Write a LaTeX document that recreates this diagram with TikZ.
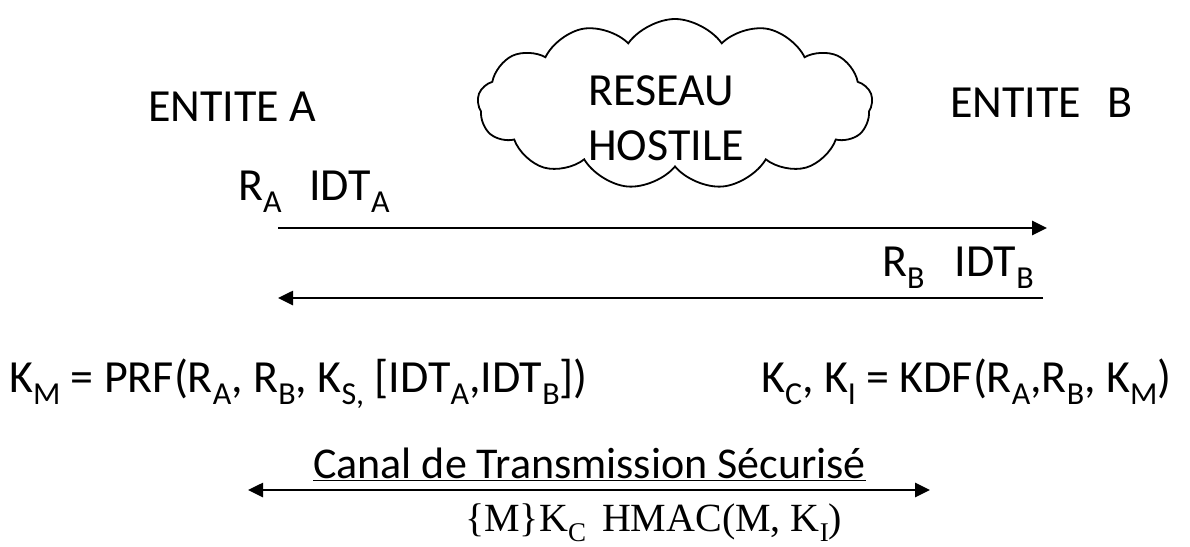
\documentclass[tikz,border=0pt]{standalone}
\usepackage{fontspec}
\setmainfont{Carlito}
\newfontfamily\tmsfont{Liberation Serif}
\usetikzlibrary{arrows.meta,shapes.symbols}
\newcommand\sbx[1]{\raisebox{-0.27em}{\fontsize{32}{32}\selectfont #1}}
\newcommand\sbt[1]{\raisebox{-0.25em}{\fontsize{27}{27}\selectfont #1}}
\tikzset{
  txt/.style={inner sep=0pt,anchor=base west,font=\fontsize{46}{56}\selectfont},
  ar/.style={-{Triangle[length=15pt,width=14pt]},line width=2.6pt},
  dar/.style={{Triangle[length=15pt,width=14pt]}-{Triangle[length=15pt,width=14pt]},line width=2.6pt},
  net/.style={cloud,draw,cloud puffs=13,cloud puff arc=110,aspect=2.3,line width=1.8pt,
              minimum width=395pt,minimum height=170pt},
}
\begin{document}
\begin{tikzpicture}[x=1pt,y=-1pt]
  \useasboundingbox (0,0) rectangle (1190,546);
  % les deux entites et le reseau
  \node[txt] (ea) at (148,121) {ENTITE A};
  \node[txt] (eb) at (950,117) {ENTITE\hspace{0.34em} B};
  \node[net] (net) at (675,104) {};
  \node[txt] (res) at (588,105) {RESEAU};
  \node[txt] (hos) at (588,160) {HOSTILE};
  % echange des aleas
  \node[txt] (ra) at (238,200) {R\sbx{A}\hspace{0.6em}IDT\sbx{A}};
  \node[txt] (rb) at (882,276) {R\sbx{B}\hspace{0.65em}IDT\sbx{B}};
  \coordinate (a1s) at (278,228); \coordinate (a1e) at (1047,228);
  \coordinate (a2s) at (1043,298); \coordinate (a2e) at (278,298);
  \draw[ar] (a1s) -- (a1e);
  \draw[ar] (a2s) -- (a2e);
  % derivation des cles
  \node[txt] (km) at (9,392) {K\sbx{M} = PRF(R\sbx{A}, R\sbx{B}, K\sbx{S,} [IDT\sbx{A},IDT\sbx{B}])};
  \node[txt] (kc) at (761,392) {K\sbx{C}, K\sbx{I} = KDF(R\sbx{A},R\sbx{B}, K\sbx{M})};
  % canal securise
  \node[txt,font=\fontsize{44}{50}\selectfont] (can) at (313,478) {\underline{Canal de Transmission Sécurisé}};
  \coordinate (bl) at (248,490); \coordinate (br) at (930,490);
  \draw[dar] (bl) -- (br);
  \node[txt,font=\tmsfont\fontsize{40}{44}\selectfont] (msg) at (465,531) {\{M\}K\sbt{C}\hspace{0.4em}HMAC(M, K\sbt{I})};
\end{tikzpicture}
\end{document}
